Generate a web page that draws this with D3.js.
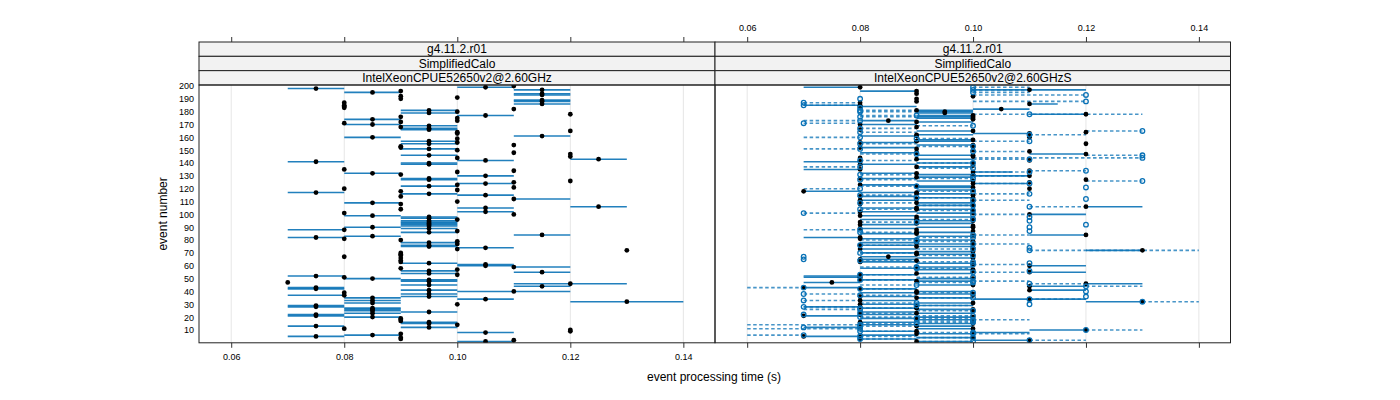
<!DOCTYPE html>
<html><head><meta charset="utf-8">
<script src="https://cdn.jsdelivr.net/npm/d3@7"></script>
<style>body{margin:0;background:#fff}svg{display:block;font-family:"Liberation Sans",Arial,sans-serif}</style>
</head><body><svg id="c" width="1400" height="400"></svg>
<script>
// ---- data ----
const stripLevels = ["g4.11.2.r01", "SimplifiedCalo"];
const panelNames = ["IntelXeonCPUE52650v2@2.60GHz", "IntelXeonCPUE52650v2@2.60GHzS"];
const xTicks = [0.06, 0.08, 0.10, 0.12, 0.14];
const yTicks = [10,20,30,40,50,60,70,80,90,100,110,120,130,140,150,160,170,180,190,200];
// [event, min, max, median] — left panel
const leftRuns = [
[200,.11,.11,.11],[199,.10,.11,.105],[198,.07,.08,.075],[197,.11,.12,.115],[196,.09,.09,.09],[195,.08,.09,.085],[194,.11,.12,.115],[193,.11,.12,.115],[192,.09,.09,.09],[191,.10,.10,.10],[190,.09,.09,.09],[189,.11,.12,.115],[188,.11,.12,.115],[187,.08,.08,.08],[186,.11,.12,.115],[185,.08,.08,.08],[184,.08,.08,.08],[183,.08,.08,.08],[182,.11,.11,.11],[181,.09,.10,.095],[180,.10,.10,.10],[179,.09,.10,.095],[178,.12,.12,.12],[177,.10,.11,.105],[176,.09,.09,.09],[175,.10,.10,.10],[174,.08,.09,.085],[173,.10,.10,.10],[172,.09,.09,.09],[171,.08,.08,.08],[170,.08,.09,.085],[169,.09,.10,.095],[168,.09,.09,.09],[167,.09,.10,.095],[166,.09,.10,.095],[165,.12,.12,.12],[164,.10,.10,.10],[163,.10,.10,.10],[161,.11,.12,.115],[160,.08,.09,.085],[159,.10,.10,.10],[157,.09,.10,.095],[156,.10,.10,.10],[155,.09,.10,.095],[154,.11,.11,.11],[153,.09,.09,.09],[152,.09,.09,.09],[151,.09,.10,.095],[150,.10,.10,.10],[148,.11,.11,.11],[147,.12,.12,.12],[146,.09,.10,.095],[145,.12,.12,.12],[144,.10,.10,.10],[143,.12,.13,.125],[142,.10,.11,.105],[141,.07,.08,.075],[140,.09,.10,.095],[139,.09,.10,.095],[135,.08,.08,.08],[134,.11,.11,.11],[133,.10,.10,.10],[132,.08,.09,.085],[131,.09,.09,.09],[130,.10,.11,.105],[128,.09,.10,.095],[127,.09,.10,.095],[126,.12,.12,.12],[125,.11,.11,.11],[124,.10,.11,.105],[123,.10,.10,.10],[122,.09,.10,.095],[121,.11,.11,.11],[120,.08,.08,.08],[119,.10,.10,.10],[118,.09,.09,.09],[117,.07,.08,.075],[116,.09,.10,.095],[115,.10,.11,.105],[114,.09,.09,.09],[112,.11,.12,.11],[110,.10,.10,.10],[109,.08,.09,.085],[108,.09,.09,.09],[106,.12,.13,.125],[105,.10,.11,.105],[104,.09,.09,.09],[102,.10,.11,.105],[101,.08,.08,.08],[100,.11,.11,.11],[99,.08,.09,.085],[98,.09,.10,.095],[97,.09,.10,.095],[96,.10,.10,.10],[95,.09,.10,.095],[94,.09,.10,.095],[93,.09,.10,.095],[92,.09,.10,.095],[91,.09,.10,.095],[90,.08,.09,.085],[89,.09,.10,.095],[88,.07,.08,.08],[87,.10,.10,.10],[86,.09,.10,.095],[84,.11,.12,.115],[83,.08,.09,.085],[82,.07,.08,.075],[81,.08,.08,.08],[80,.09,.09,.09],[79,.10,.10,.10],[78,.09,.10,.095],[77,.10,.10,.10],[76,.09,.10,.095],[75,.09,.10,.095],[74,.10,.11,.105],[73,.10,.10,.10],[72,.13,.13,.13],[70,.09,.09,.09],[69,.09,.09,.09],[68,.09,.09,.09],[67,.08,.08,.08],[66,.09,.09,.09],[64,.09,.09,.09],[63,.09,.09,.09],[62,.09,.10,.095],[61,.10,.11,.105],[60,.10,.11,.105],[59,.11,.12,.11],[58,.09,.09,.09],[57,.10,.10,.10],[56,.09,.10,.095],[55,.11,.12,.115],[54,.09,.10,.095],[53,.10,.10,.10],[52,.07,.08,.075],[51,.08,.08,.08],[50,.08,.09,.085],[49,.09,.10,.095],[48,.09,.10,.095],[47,.07,.07,.07],[46,.11,.13,.12],[45,.09,.10,.095],[44,.11,.12,.115],[43,.07,.08,.075],[42,.07,.08,.075],[41,.09,.10,.095],[40,.10,.12,.11],[39,.08,.08,.08],[38,.09,.10,.095],[37,.07,.08,.08],[36,.09,.10,.095],[35,.08,.09,.085],[34,.10,.11,.105],[33,.08,.09,.085],[32,.12,.14,.13],[31,.08,.09,.085],[30,.10,.10,.10],[29,.07,.08,.075],[28,.07,.08,.075],[27,.08,.09,.085],[26,.08,.09,.085],[25,.08,.09,.085],[24,.09,.10,.095],[23,.08,.09,.085],[22,.07,.08,.075],[21,.07,.08,.075],[20,.08,.09,.085],[19,.09,.09,.09],[18,.09,.09,.09],[17,.09,.09,.09],[16,.09,.10,.095],[15,.09,.10,.095],[14,.10,.10,.10],[13,.07,.08,.075],[12,.09,.10,.095],[11,.08,.08,.08],[10,.12,.12,.12],[9,.12,.12,.12],[8,.10,.11,.105],[7,.09,.09,.09],[6,.08,.09,.085],[5,.07,.08,.075],[4,.09,.09,.09],[3,.09,.09,.09],[2,.11,.11,.11],[1,.10,.11,.105]
];
// right panel, solid series (filled dots)
const rightSolidRuns = [
[199,.07,.08,.08],[197,.10,.12,.11],[196,.08,.09,.09],[194,.09,.09,.09],[192,.10,.10,.10],[190,.09,.09,.09],[188,.09,.09,.09],[187,.08,.08,.08],[186,.11,.115,.11],[185,.07,.08,.08],[184,.08,.09,.08],[182,.10,.11,.105],[181,.09,.10,.09],[180,.09,.10,.095],[179,.09,.10,.095],[178,.11,.12,.12],[177,.09,.10,.10],[176,.09,.10,.10],[175,.09,.10,.10],[174,.10,.10,.10],[173,.08,.09,.085],[172,.09,.10,.09],[170,.08,.09,.08],[168,.09,.09,.09],[166,.08,.08,.08],[165,.09,.10,.10],[164,.12,.12,.12],[163,.10,.11,.11],[162,.09,.10,.09],[161,.08,.09,.09],[160,.11,.11,.11],[158,.09,.10,.10],[157,.09,.10,.09],[156,.08,.09,.08],[155,.12,.12,.12],[154,.09,.10,.10],[153,.10,.10,.10],[152,.08,.09,.08],[151,.09,.09,.09],[150,.10,.10,.10],[149,.11,.11,.11],[148,.08,.09,.09],[147,.11,.12,.12],[146,.09,.10,.10],[145,.10,.10,.10],[144,.08,.08,.08],[143,.09,.10,.09],[142,.11,.11,.11],[141,.07,.08,.08],[140,.09,.10,.10],[139,.08,.09,.08],[138,.10,.10,.10],[137,.09,.10,.09],[135,.07,.08,.08],[134,.11,.11,.11],[133,.10,.107,.10],[132,.08,.09,.09],[131,.09,.10,.10],[130,.10,.11,.11],[129,.09,.10,.09],[128,.08,.09,.08],[127,.12,.12,.12],[126,.09,.10,.10],[125,.11,.11,.11],[124,.10,.11,.10],[123,.08,.09,.08],[122,.09,.10,.09],[121,.09,.10,.10],[120,.11,.11,.11],[119,.09,.10,.10],[118,.07,.08,.07],[117,.08,.09,.09],[116,.09,.10,.09],[115,.10,.10,.10],[114,.08,.09,.08],[113,.09,.10,.10],[112,.09,.09,.09],[111,.08,.09,.08],[110,.10,.10,.10],[109,.09,.10,.09],[108,.08,.08,.08],[107,.09,.10,.10],[106,.12,.13,.12],[105,.08,.09,.09],[104,.09,.10,.09],[103,.10,.10,.10],[102,.08,.09,.08],[101,.09,.10,.10],[100,.11,.12,.11],[99,.08,.09,.08],[98,.09,.10,.09],[97,.10,.10,.10],[96,.08,.09,.09],[95,.09,.10,.10],[94,.08,.08,.08],[93,.09,.10,.09],[92,.08,.09,.08],[91,.10,.10,.10],[90,.09,.10,.10],[89,.08,.09,.08],[88,.09,.09,.09],[87,.10,.10,.10],[86,.09,.10,.09],[85,.08,.09,.09],[84,.11,.12,.12],[83,.09,.10,.10],[82,.07,.08,.08],[81,.08,.09,.08],[80,.09,.10,.09],[79,.10,.10,.10],[78,.08,.09,.09],[77,.09,.10,.10],[76,.08,.09,.08],[75,.09,.10,.09],[74,.10,.10,.10],[73,.08,.09,.08],[72,.12,.13,.13],[71,.09,.10,.10],[70,.08,.09,.09],[69,.09,.10,.09],[68,.10,.10,.10],[67,.08,.09,.085],[66,.09,.10,.10],[65,.08,.09,.08],[64,.09,.09,.09],[63,.08,.09,.08],[62,.09,.10,.10],[61,.10,.10,.10],[60,.11,.12,.11],[59,.09,.10,.09],[58,.08,.09,.09],[57,.09,.10,.10],[56,.10,.10,.10],[55,.11,.12,.11],[54,.09,.10,.09],[53,.08,.09,.08],[52,.07,.08,.08],[51,.07,.08,.08],[50,.09,.10,.10],[49,.08,.09,.08],[48,.09,.10,.09],[47,.07,.08,.075],[46,.12,.13,.12],[45,.09,.10,.10],[44,.11,.12,.11],[43,.07,.08,.07],[42,.08,.09,.08],[41,.11,.12,.11],[40,.09,.10,.09],[39,.08,.09,.09],[38,.09,.10,.10],[37,.10,.10,.10],[36,.08,.09,.08],[35,.09,.10,.09],[34,.10,.12,.11],[33,.08,.09,.08],[32,.12,.13,.13],[31,.09,.10,.10],[30,.08,.09,.08],[29,.09,.10,.09],[28,.07,.08,.08],[27,.08,.09,.09],[26,.09,.10,.10],[25,.10,.10,.10],[24,.08,.09,.08],[23,.09,.10,.09],[22,.08,.09,.08],[21,.07,.08,.07],[20,.09,.10,.10],[19,.08,.09,.09],[18,.09,.10,.09],[17,.10,.10,.10],[16,.08,.09,.08],[15,.09,.10,.10],[14,.08,.09,.08],[13,.09,.10,.09],[12,.07,.08,.08],[11,.09,.10,.10],[10,.11,.12,.12],[9,.08,.09,.09],[8,.10,.11,.10],[7,.09,.10,.09],[6,.08,.09,.08],[5,.07,.08,.07],[4,.09,.10,.10],[3,.08,.09,.08],[2,.10,.11,.11],[1,.09,.10,.09]
];
// right panel, dashed series (open circles)
const rightDashedRuns = [
[199,.10,.11,.10],[197,.10,.11,.10],[195,.10,.11,.10],[193,.10,.12,.12],[190,.08,.08,.08],[188,.10,.12,.12],[187,.07,.08,.07],[185,.07,.08,.07],[183,.08,.08,.08],[181,.08,.09,.08],[180,.08,.09,.08],[178,.10,.13,.11],[177,.08,.09,.09],[176,.08,.09,.08],[173,.07,.08,.08],[171,.07,.08,.07],[169,.09,.10,.10],[167,.08,.09,.08],[165,.12,.13,.13],[164,.08,.09,.08],[162,.11,.12,.11],[160,.07,.08,.08],[159,.09,.10,.09],[157,.10,.11,.11],[155,.08,.09,.08],[153,.09,.10,.10],[151,.07,.08,.08],[149,.10,.11,.10],[147,.08,.09,.09],[146,.12,.13,.13],[144,.10,.13,.13],[143,.10,.11,.11],[142,.08,.09,.08],[140,.09,.10,.10],[137,.07,.08,.08],[136,.09,.10,.10],[134,.11,.12,.12],[133,.10,.11,.11],[131,.08,.09,.08],[130,.10,.11,.10],[128,.09,.10,.10],[127,.08,.09,.08],[126,.12,.13,.13],[124,.10,.11,.11],[122,.08,.09,.09],[121,.12,.12,.12],[120,.07,.08,.08],[118,.09,.10,.10],[116,.10,.11,.11],[115,.08,.09,.08],[113,.09,.10,.09],[112,.12,.12,.12],[111,.10,.11,.10],[109,.08,.09,.08],[107,.09,.10,.10],[106,.11,.12,.11],[104,.08,.09,.08],[103,.09,.10,.10],[101,.07,.08,.07],[100,.10,.11,.10],[98,.11,.11,.11],[96,.09,.10,.10],[95,.11,.11,.11],[94,.08,.09,.09],[92,.12,.12,.12],[90,.11,.11,.11],[88,.07,.08,.08],[87,.11,.11,.11],[86,.08,.09,.08],[84,.10,.11,.10],[82,.09,.10,.10],[80,.08,.09,.09],[79,.09,.10,.09],[77,.10,.11,.10],[76,.08,.09,.08],[74,.11,.11,.11],[73,.09,.10,.10],[72,.11,.14,.11],[70,.08,.09,.08],[68,.09,.10,.10],[67,.07,.07,.07],[65,.07,.07,.07],[64,.08,.09,.08],[63,.09,.10,.10],[62,.11,.11,.11],[61,.10,.11,.10],[59,.08,.09,.09],[58,.09,.10,.09],[56,.11,.11,.11],[55,.10,.11,.10],[53,.08,.09,.08],[51,.09,.10,.10],[49,.08,.09,.08],[48,.10,.11,.10],[47,.09,.10,.10],[46,.11,.12,.11],[45,.08,.09,.09],[44,.12,.13,.12],[43,.06,.07,.07],[42,.08,.09,.08],[40,.12,.12,.12],[39,.09,.10,.10],[38,.07,.08,.07],[37,.08,.09,.08],[36,.12,.12,.12],[35,.09,.10,.10],[34,.11,.12,.11],[33,.07,.08,.07],[32,.13,.14,.13],[31,.08,.09,.09],[30,.11,.11,.11],[29,.09,.10,.09],[28,.07,.08,.07],[27,.08,.09,.08],[26,.07,.08,.08],[25,.09,.10,.10],[23,.08,.09,.08],[22,.07,.07,.07],[21,.09,.10,.10],[20,.08,.09,.08],[19,.09,.10,.09],[18,.10,.11,.10],[17,.09,.10,.10],[16,.09,.10,.10],[15,.08,.09,.09],[14,.06,.08,.08],[13,.08,.09,.08],[12,.07,.07,.07],[11,.06,.08,.08],[10,.12,.13,.12],[9,.08,.09,.08],[8,.09,.10,.10],[7,.10,.11,.10],[6,.06,.07,.07],[5,.08,.09,.08],[4,.09,.10,.10],[3,.08,.09,.08],[2,.11,.12,.11],[1,.09,.10,.10]
];

// ---- layout ----
const svg = d3.select("#c");
const panelTop = 85, panelBot = 342.8, stripTop = 42, stripH = 14.33;
const panels = [{x0:199, x1:715}, {x0:715, x1:1230.5}];
const xDomain = [0.0543, 0.1456];
const y = d3.scaleLinear().domain([0, 201]).range([342.8, 84.7]);
const blue = "#0a72b6";
const txt = "#000";

panels.forEach((p, i) => {
  const x = d3.scaleLinear().domain(xDomain).range([p.x0, p.x1]);
  p.x = x;
  const g = svg.append("g");
  g.selectAll("line.grid").data(xTicks).join("line")
    .attr("x1", d => x(d)).attr("x2", d => x(d))
    .attr("y1", panelTop).attr("y2", panelBot)
    .attr("stroke", "#e6e6e6").attr("stroke-width", 1);
  const labels = [stripLevels[0], stripLevels[1], panelNames[i]];
  labels.forEach((t, k) => {
    const sy = stripTop + k * stripH;
    g.append("rect").attr("x", p.x0).attr("y", sy).attr("width", p.x1 - p.x0).attr("height", stripH)
      .attr("fill", "#f2f2f2").attr("stroke", "#222").attr("stroke-width", 1);
    g.append("text").attr("x", (p.x0 + p.x1) / 2).attr("y", sy + stripH / 2 + 4.3)
      .attr("text-anchor", "middle").attr("font-size", 12).attr("fill", txt).text(t);
  });
});

const xL = panels[0].x, xR = panels[1].x;
const styleAxis = g => { g.select(".domain").remove(); g.selectAll("text").attr("font-size", 9).attr("font-family", "Liberation Sans").attr("fill", "#000"); g.selectAll("line").attr("stroke", "#333"); };
svg.append("g").attr("transform", `translate(0,${panelBot})`)
  .call(d3.axisBottom(xL).tickValues(xTicks).tickSize(5).tickPadding(6).tickFormat(d3.format(".2f"))).call(styleAxis);
svg.append("g").attr("transform", `translate(0,${panelBot})`)
  .call(d3.axisBottom(xR).tickValues(xTicks).tickSize(5).tickFormat("")).call(styleAxis);
svg.append("g").attr("transform", `translate(0,${stripTop})`)
  .call(d3.axisTop(xL).tickValues(xTicks).tickSize(5).tickFormat("")).call(styleAxis);
svg.append("g").attr("transform", `translate(0,${stripTop})`)
  .call(d3.axisTop(xR).tickValues(xTicks).tickSize(5).tickPadding(6).tickFormat(d3.format(".2f"))).call(styleAxis);
svg.append("g").attr("transform", `translate(199,0)`)
  .call(d3.axisLeft(y).tickValues(yTicks).tickSize(0).tickPadding(5)).call(styleAxis);

svg.append("text").attr("x", 714).attr("y", 381).attr("text-anchor", "middle")
  .attr("font-size", 12).text("event processing time (s)");
svg.append("text").attr("transform", `translate(167,${(panelTop + panelBot) / 2}) rotate(-90)`)
  .attr("text-anchor", "middle").attr("font-size", 12).text("event number");

// ---- marks ----
function drawSegs(g, x, data, dashed) {
  g.selectAll(null).data(data.filter(d => d[2] > d[1])).join("line")
    .attr("x1", d => x(d[1])).attr("x2", d => x(d[2]))
    .attr("y1", d => y(d[0])).attr("y2", d => y(d[0]))
    .attr("stroke", blue).attr("stroke-width", 1.6).attr("stroke-opacity", dashed ? 0.75 : 0.9)
    .attr("stroke-dasharray", dashed ? "3.5,2.5" : null);
}
function drawDots(g, x, data) {
  g.selectAll(null).data(data).join("circle")
    .attr("cx", d => x(d[3])).attr("cy", d => y(d[0])).attr("r", 2.4).attr("fill", "#000");
}
function drawRings(g, x, data) {
  g.selectAll(null).data(data).join("circle")
    .attr("cx", d => x(d[3])).attr("cy", d => y(d[0])).attr("r", 2.3)
    .attr("fill", "none").attr("stroke", blue).attr("stroke-width", 1.3);
}
const defs = svg.append("defs");
panels.forEach((p, i) => {
  defs.append("clipPath").attr("id", "cp" + i).append("rect")
    .attr("x", p.x0).attr("y", panelTop).attr("width", p.x1 - p.x0).attr("height", panelBot - panelTop);
});
const gL = svg.append("g").attr("clip-path", "url(#cp0)");
drawSegs(gL, xL, leftRuns, false);
drawDots(gL, xL, leftRuns);
const gR = svg.append("g").attr("clip-path", "url(#cp1)");
drawSegs(gR, xR, rightDashedRuns, true);
drawSegs(gR, xR, rightSolidRuns, false);
drawDots(gR, xR, rightSolidRuns);
drawRings(gR, xR, rightDashedRuns);

panels.forEach(p => {
  svg.append("rect").attr("x", p.x0).attr("y", panelTop).attr("width", p.x1 - p.x0).attr("height", panelBot - panelTop)
    .attr("fill", "none").attr("stroke", "#222").attr("stroke-width", 1);
});
</script></body></html>
